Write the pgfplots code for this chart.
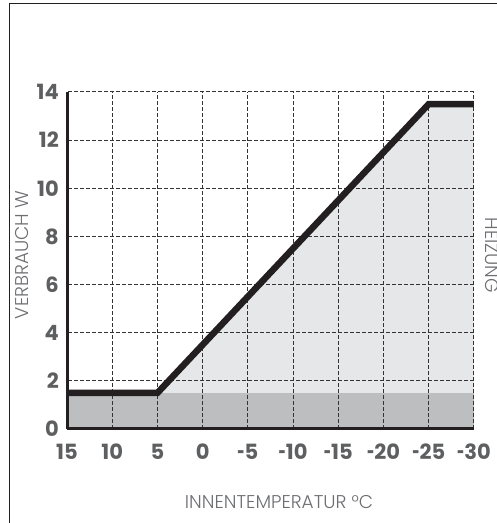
\documentclass[border=0pt]{standalone}
\usepackage{fontspec}
\setmainfont{Poppins}
\newfontfamily\lightfont{Poppins Light}
\usepackage{pgfplots}
\pgfplotsset{compat=1.18}

\definecolor{darkfill}{HTML}{BCBEC0}
\definecolor{lightfill}{HTML}{E6E7E8}
\definecolor{linecol}{HTML}{231F20}
\definecolor{tickcol}{HTML}{5E5F61}
\definecolor{labelcol}{HTML}{6D6E71}
\newcommand\hy{\scalebox{0.6}[1]{-}}

\begin{document}
\begin{tikzpicture}
% frame (top and left edge only)
\draw[line width=1pt, linecol] (9pt,0pt) -- (9pt,519pt) -- (497pt,519pt);

\begin{axis}[
    at={(67pt,94pt)}, anchor=south west,
    scale only axis, width=407pt, height=337pt,
    set layers,
    x dir=reverse,
    xmin=-30, xmax=15, ymin=0, ymax=14,
    xtick={-30,-25,...,15}, ytick={0,2,...,14},
    xticklabels={\hy30,\hy25,\hy20,\hy15,\hy10,\hy5,0,5,10,15},
    major tick length=0pt,
    axis x line*=bottom, axis y line*=left,
    every outer x axis line/.append style={-},
    every outer y axis line/.append style={-},
    axis line style={-, line width=3pt, linecol},
    grid=major,
    major grid style={dash pattern=on 3.5pt off 2.5pt, line width=1pt, color=black!80},
    /pgf/number format/assume math mode=true,
    ticklabel style={font=\fontsize{21}{21}\selectfont\bfseries, text=tickcol, inner sep=0pt},
    xticklabel style={anchor=center, yshift=-23pt},
    yticklabel style={anchor=east, xshift=-8pt},
    xlabel={INNENTEMPERATUR °C},
    ylabel={VERBRAUCH W},
    label style={font=\lightfont\fontsize{18.5}{18.5}\selectfont, text=labelcol, inner sep=0pt},
    xlabel style={at={(axis description cs:0.521,-0.217)}, anchor=center},
    ylabel style={at={(axis description cs:-0.111,0.516)}, anchor=center, rotate=0},
    clip=false,
]
% base consumption
\addplot[on layer=axis background, fill=darkfill, draw=none]
    coordinates {(15,0) (-30,0) (-30,1.5) (15,1.5)} \closedcycle;
% heating share
\addplot[on layer=axis background, fill=lightfill, draw=none]
    coordinates {(5,1.5) (-25,13.5) (-30,13.5) (-30,1.5)} -- cycle;
% consumption curve
\addplot[line width=6.5pt, linecol, line join=miter]
    coordinates {(15,1.5) (5,1.5) (-25,13.5) (-30,13.5)};
\node[rotate=-90, font=\lightfont\fontsize{18.5}{18.5}\selectfont, text=labelcol, inner sep=0pt]
    at (axis description cs:1.044,0.516) {HEIZUNG};
\end{axis}

\pgfresetboundingbox
\path[use as bounding box] (0pt,0pt) rectangle (497pt,523pt);
\end{tikzpicture}
\end{document}
